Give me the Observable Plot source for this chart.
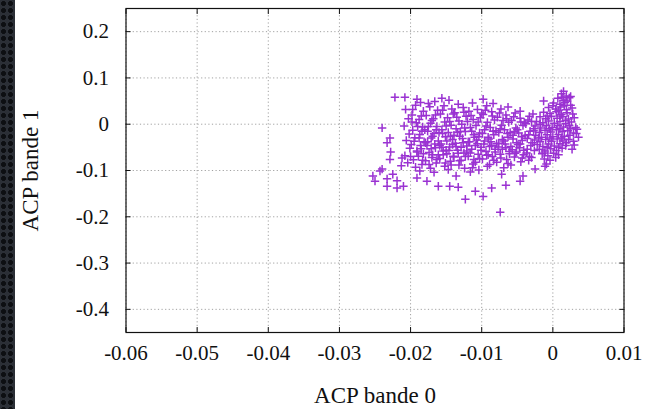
<!DOCTYPE html>
<html>
<head>
<meta charset="utf-8">
<script src="https://cdn.jsdelivr.net/npm/d3@7"></script>
<script src="https://cdn.jsdelivr.net/npm/@observablehq/plot@0.6"></script>
<style>
  html, body { margin: 0; padding: 0; background: #fff; }
  #wrap { position: relative; width: 648px; height: 409px; overflow: hidden; }
  #strip { position: absolute; left: 0; top: 0; width: 15px; height: 409px;
    background-color: #2b2f36;
    background-image: radial-gradient(circle at 50% 50%, #0d0f12 0 2.2px, transparent 2.6px);
    background-size: 7px 7px; }
  svg { font-family: "Liberation Serif", "DejaVu Serif", serif; }
</style>
</head>
<body>
<div id="wrap"><div id="strip"></div></div>
<script>
// Axis ticks
const xTicks = [-0.06, -0.05, -0.04, -0.03, -0.02, -0.01, 0, 0.01];
const yTicks = [0.2, 0.1, 0, -0.1, -0.2, -0.3, -0.4];
const xLabel = "ACP bande 0";
const yLabel = "ACP bande 1";

// Dense blob near x = 0
const denseCluster = [
[0.0012,0.066],[0.0019,0.061],
[0.0007,0.056],[0.0015,0.052],[0.0023,0.057],
[0.0001,0.046],[0.0010,0.043],[0.0017,0.047],[0.0025,0.041],
[-0.0006,0.036],[0.0004,0.033],[0.0011,0.037],[0.0019,0.031],[0.0027,0.035],
[-0.0013,0.026],[-0.0004,0.023],[0.0005,0.027],[0.0012,0.021],[0.0020,0.025],[0.0028,0.022],
[-0.0018,0.016],[-0.0010,0.012],[-0.0002,0.017],[0.0006,0.013],[0.0014,0.016],[0.0022,0.011],[0.0030,0.014],
[-0.0023,0.006],[-0.0014,0.003],[-0.0006,0.007],[0.0002,0.002],[0.0010,0.006],[0.0018,0.001],[0.0026,0.005],
[-0.0025,-0.004],[-0.0017,-0.008],[-0.0009,-0.003],[-0.0001,-0.007],[0.0007,-0.002],[0.0015,-0.006],[0.0023,-0.003],[0.0032,-0.007],
[-0.0027,-0.014],[-0.0019,-0.018],[-0.0011,-0.013],[-0.0003,-0.017],[0.0005,-0.012],[0.0013,-0.016],[0.0021,-0.014],[0.0029,-0.019],
[-0.0024,-0.024],[-0.0016,-0.028],[-0.0008,-0.023],[0.0000,-0.027],[0.0008,-0.022],[0.0016,-0.026],[0.0024,-0.024],
[-0.0026,-0.034],[-0.0018,-0.038],[-0.0010,-0.033],[-0.0002,-0.037],[0.0006,-0.032],[0.0014,-0.036],[0.0022,-0.033],
[-0.0022,-0.044],[-0.0014,-0.048],[-0.0006,-0.043],[0.0002,-0.047],[0.0010,-0.042],[0.0018,-0.046],
[-0.0019,-0.054],[-0.0011,-0.058],[-0.0003,-0.053],[0.0005,-0.057],[0.0013,-0.052],
[-0.0015,-0.064],[-0.0007,-0.068],[0.0001,-0.063],[0.0008,-0.066],
[-0.0012,-0.075],[-0.0004,-0.078],
[-0.0009,-0.086],
[0.0000,0.040],[0.0008,0.030],[0.0016,0.040],[-0.0008,0.018],[0.0010,0.018],[0.0018,0.008],
[-0.0018,0.000],[-0.0005,-0.010],[0.0010,-0.010],[0.0025,-0.010],[-0.0020,-0.030],[-0.0004,-0.030],
[0.0012,-0.030],[0.0019,-0.040],[-0.0008,-0.050],[0.0008,-0.050],[-0.0012,-0.062],[0.0004,-0.072],
[0.0020,0.050],[0.0013,0.058]
];

// Main elongated band
const mainBand = [
[-0.0207,0.032],[-0.0203,0.012],[-0.0209,-0.004],[-0.0202,-0.021],[-0.0206,-0.035],[-0.0201,-0.052],[-0.0208,-0.068],[-0.0204,-0.083],
[-0.0193,0.041],[-0.0198,0.020],[-0.0192,0.003],[-0.0197,-0.013],[-0.0194,-0.029],[-0.0199,-0.044],[-0.0191,-0.060],[-0.0196,-0.077],[-0.0193,-0.093],
[-0.0186,0.047],[-0.0182,0.028],[-0.0188,0.010],[-0.0183,-0.006],[-0.0187,-0.022],[-0.0181,-0.038],[-0.0185,-0.053],[-0.0189,-0.069],[-0.0184,-0.087],[-0.0187,-0.101],
[-0.0173,0.038],[-0.0178,0.019],[-0.0172,0.002],[-0.0176,-0.015],[-0.0171,-0.030],[-0.0177,-0.046],[-0.0174,-0.061],[-0.0179,-0.079],[-0.0172,-0.095],
[-0.0166,0.049],[-0.0162,0.030],[-0.0168,0.012],[-0.0163,-0.005],[-0.0167,-0.020],[-0.0161,-0.036],[-0.0165,-0.051],[-0.0169,-0.066],[-0.0164,-0.084],[-0.0167,-0.104],
[-0.0153,0.040],[-0.0158,0.022],[-0.0152,0.005],[-0.0156,-0.012],[-0.0151,-0.027],[-0.0157,-0.043],[-0.0154,-0.058],[-0.0159,-0.074],[-0.0152,-0.091],
[-0.0146,0.052],[-0.0142,0.033],[-0.0148,0.014],[-0.0143,-0.002],[-0.0147,-0.018],[-0.0141,-0.033],[-0.0145,-0.049],[-0.0149,-0.064],[-0.0144,-0.080],[-0.0147,-0.098],
[-0.0133,0.043],[-0.0138,0.025],[-0.0132,0.007],[-0.0136,-0.010],[-0.0131,-0.026],[-0.0137,-0.041],[-0.0134,-0.056],[-0.0139,-0.071],[-0.0132,-0.088],[-0.0136,-0.112],
[-0.0126,0.036],[-0.0122,0.017],[-0.0128,0.000],[-0.0123,-0.016],[-0.0127,-0.031],[-0.0121,-0.047],[-0.0125,-0.062],[-0.0129,-0.078],[-0.0124,-0.095],
[-0.0113,0.046],[-0.0118,0.028],[-0.0112,0.010],[-0.0116,-0.007],[-0.0111,-0.023],[-0.0117,-0.038],[-0.0114,-0.054],[-0.0119,-0.069],[-0.0112,-0.086],[-0.0116,-0.103],
[-0.0106,0.032],[-0.0102,0.014],[-0.0108,-0.003],[-0.0103,-0.019],[-0.0107,-0.034],[-0.0101,-0.050],[-0.0105,-0.065],[-0.0109,-0.082],[-0.0104,-0.099],
[-0.0093,0.040],[-0.0098,0.021],[-0.0092,0.004],[-0.0096,-0.012],[-0.0091,-0.028],[-0.0097,-0.043],[-0.0094,-0.059],[-0.0099,-0.075],[-0.0092,-0.091],
[-0.0086,0.027],[-0.0082,0.009],[-0.0088,-0.007],[-0.0083,-0.023],[-0.0087,-0.038],[-0.0081,-0.054],[-0.0085,-0.070],[-0.0089,-0.087],
[-0.0073,0.033],[-0.0078,0.015],[-0.0072,-0.002],[-0.0076,-0.018],[-0.0071,-0.033],[-0.0077,-0.049],[-0.0074,-0.065],[-0.0079,-0.082],[-0.0072,-0.108],
[-0.0066,0.020],[-0.0062,0.004],[-0.0068,-0.012],[-0.0063,-0.028],[-0.0067,-0.043],[-0.0061,-0.059],[-0.0065,-0.076],[-0.0069,-0.094],
[-0.0053,0.024],[-0.0058,0.008],[-0.0052,-0.008],[-0.0056,-0.024],[-0.0051,-0.040],[-0.0057,-0.055],[-0.0054,-0.071],[-0.0059,-0.088],
[-0.0046,0.013],[-0.0042,-0.003],[-0.0048,-0.019],[-0.0043,-0.035],[-0.0047,-0.051],[-0.0041,-0.066],[-0.0045,-0.081],
[-0.0033,0.017],[-0.0038,0.001],[-0.0032,-0.015],[-0.0036,-0.031],[-0.0031,-0.046],[-0.0037,-0.062],[-0.0034,-0.078],
[-0.0028,0.022],[-0.0030,0.006],[-0.0027,-0.010],[-0.0029,-0.040],[-0.0026,-0.057],[-0.0030,-0.072]
];

// Extra points in the dense middle of the band
const denseCore = [
[-0.0190,-0.005],[-0.0188,-0.030],[-0.0191,-0.058],
[-0.0180,-0.012],[-0.0179,-0.040],[-0.0182,-0.064],
[-0.0170,0.008],[-0.0169,-0.026],[-0.0171,-0.053],[-0.0170,-0.072],
[-0.0160,-0.018],[-0.0159,-0.046],[-0.0161,-0.066],
[-0.0150,-0.004],[-0.0149,-0.036],[-0.0150,-0.056],[-0.0151,-0.084],
[-0.0140,0.022],[-0.0139,-0.024],[-0.0141,-0.044],[-0.0140,-0.069],
[-0.0130,-0.016],[-0.0129,-0.050],[-0.0131,-0.079],
[-0.0120,0.006],[-0.0119,-0.038],[-0.0121,-0.058],
[-0.0110,-0.028],[-0.0109,-0.046],[-0.0111,-0.076],
[-0.0100,0.024],[-0.0099,-0.020],[-0.0101,-0.056],
[-0.0090,-0.032],[-0.0089,-0.048],[-0.0091,-0.066],
[-0.0080,-0.014],[-0.0079,-0.042],[-0.0081,-0.060],
[-0.0070,0.008],[-0.0069,-0.036],[-0.0071,-0.054],
[-0.0060,-0.018],[-0.0059,-0.048],[-0.0061,-0.064],
[-0.0050,-0.012],[-0.0049,-0.044],[-0.0051,-0.060],
[-0.0040,0.004],[-0.0039,-0.024],[-0.0041,-0.056]
];

const denseCore2 = [
[-0.0198,0.005],[-0.0195,-0.037],[-0.0200,-0.070],
[-0.0185,0.018],[-0.0184,-0.015],[-0.0186,-0.046],[-0.0183,-0.078],
[-0.0175,-0.005],[-0.0176,-0.038],[-0.0174,-0.087],
[-0.0165,0.020],[-0.0164,-0.012],[-0.0166,-0.043],[-0.0163,-0.076],
[-0.0155,0.030],[-0.0155,-0.020],[-0.0156,-0.050],[-0.0154,-0.066],
[-0.0145,0.006],[-0.0144,-0.026],[-0.0146,-0.057],[-0.0143,-0.088],
[-0.0135,0.015],[-0.0134,-0.018],[-0.0136,-0.048],[-0.0133,-0.063],
[-0.0125,0.026],[-0.0124,-0.008],[-0.0126,-0.040],[-0.0123,-0.070],
[-0.0115,0.019],[-0.0114,-0.015],[-0.0116,-0.062],[-0.0113,-0.094],
[-0.0105,0.005],[-0.0104,-0.027],[-0.0106,-0.042],[-0.0103,-0.074],
[-0.0095,0.030],[-0.0094,-0.004],[-0.0096,-0.036],[-0.0093,-0.067],
[-0.0085,0.018],[-0.0084,-0.015],[-0.0086,-0.046],[-0.0083,-0.078],
[-0.0075,0.024],[-0.0074,-0.010],[-0.0076,-0.041],[-0.0073,-0.073],
[-0.0065,0.012],[-0.0064,-0.020],[-0.0066,-0.051],[-0.0063,-0.085],
[-0.0055,0.016],[-0.0054,-0.016],[-0.0056,-0.032],[-0.0053,-0.063],
[-0.0045,0.005],[-0.0044,-0.027],[-0.0046,-0.043],[-0.0043,-0.073],
[-0.0035,0.009],[-0.0034,-0.023],[-0.0036,-0.054],[-0.0033,-0.070]
];

// Scattered outlying points
const sparsePoints = [
[-0.0222,0.058],[-0.0208,0.058],[-0.0191,0.054],[-0.0240,-0.008],[-0.0233,-0.040],[-0.0229,-0.030],
[-0.0253,-0.112],[-0.0250,-0.123],[-0.0243,-0.101],[-0.0233,-0.134],[-0.0219,-0.138],[-0.0210,-0.134],
[-0.0191,-0.116],[-0.0177,-0.123],[-0.0161,-0.134],[-0.0145,-0.134],[-0.0133,-0.136],[-0.0123,-0.162],
[-0.0109,-0.145],[-0.0098,-0.156],[-0.0074,-0.190],[-0.0086,-0.138],[-0.0066,-0.132],[-0.0046,-0.123],
[-0.0042,-0.112],[-0.0025,-0.097],[-0.0011,-0.091],[0.0029,-0.037],[0.0034,-0.011],[0.0025,0.060],
[0.0015,0.071],[-0.0013,0.050],[-0.0046,0.028],[-0.0063,0.037],[-0.0084,0.045],[-0.0098,0.054],
[-0.0156,0.056],[-0.0175,0.045],[-0.0197,0.032],
[-0.0229,-0.076],[-0.0212,-0.073],[-0.0240,-0.097],[-0.0225,-0.108],[-0.0233,-0.118],[-0.0219,-0.122],
[0.0033,-0.020],[0.0036,-0.028],[0.0027,-0.054],[0.0030,-0.045],
[-0.0213,-0.090],[-0.0228,-0.060]
];

const points = [...mainBand, ...denseCore, ...denseCore2, ...denseCluster, ...sparsePoints]
  .map(([a, b]) => ({a, b}));

const plusSymbol = {
  draw(context, size) {
    const r = Math.sqrt(size / Math.PI);
    context.moveTo(-r, 0); context.lineTo(r, 0);
    context.moveTo(0, -r); context.lineTo(0, r);
  }
};

const fmt = d => String(+d.toFixed(2));
const gridStyle = {stroke: "#8a8a8a", strokeOpacity: 1, strokeDasharray: "1.2,2.4", strokeWidth: 0.8};
const FS = 21;

const chart = Plot.plot({
  width: 648,
  height: 409,
  marginLeft: 125.5,
  marginRight: 24.5,
  marginTop: 8,
  marginBottom: 77,
  style: {fontFamily: "'Liberation Serif', serif", fontSize: FS + "px", color: "#111", background: "transparent"},
  x: {domain: [-0.06, 0.01]},
  y: {domain: [-0.45, 0.25]},
  marks: [
    Plot.gridX(xTicks, gridStyle),
    Plot.gridY(yTicks, gridStyle),
    Plot.axisX(xTicks, {anchor: "bottom", tickSize: 0, tickPadding: 13, tickFormat: fmt, fontSize: FS, label: null}),
    Plot.axisX(xTicks, {anchor: "bottom", tickSize: -5, tickFormat: null, text: null, label: null}),
    Plot.axisX(xTicks, {anchor: "top", tickSize: -5, tickFormat: null, text: null, label: null}),
    Plot.axisY(yTicks, {anchor: "left", tickSize: 0, tickPadding: 17, tickFormat: fmt, fontSize: FS, label: null}),
    Plot.axisY(yTicks, {anchor: "left", tickSize: -5, tickFormat: null, text: null, label: null}),
    Plot.axisY(yTicks, {anchor: "right", tickSize: -5, tickFormat: null, text: null, label: null}),
    Plot.text([xLabel], {text: d => d, frameAnchor: "bottom", textAnchor: "middle", lineAnchor: "middle", dy: 63, fontSize: 23, fill: "#111"}),
    Plot.text([yLabel], {text: d => d, frameAnchor: "left", textAnchor: "middle", lineAnchor: "middle", rotate: -90, dx: -95, fontSize: 23, fill: "#111"}),
    Plot.dot(points, {x: "a", y: "b", symbol: plusSymbol, r: 4.2, stroke: "#9a32d2", strokeWidth: 1.5, fill: "none"}),
    Plot.frame({stroke: "#111", strokeWidth: 1.2})
  ]
});
document.getElementById("wrap").prepend(chart);
</script>
</body>
</html>
